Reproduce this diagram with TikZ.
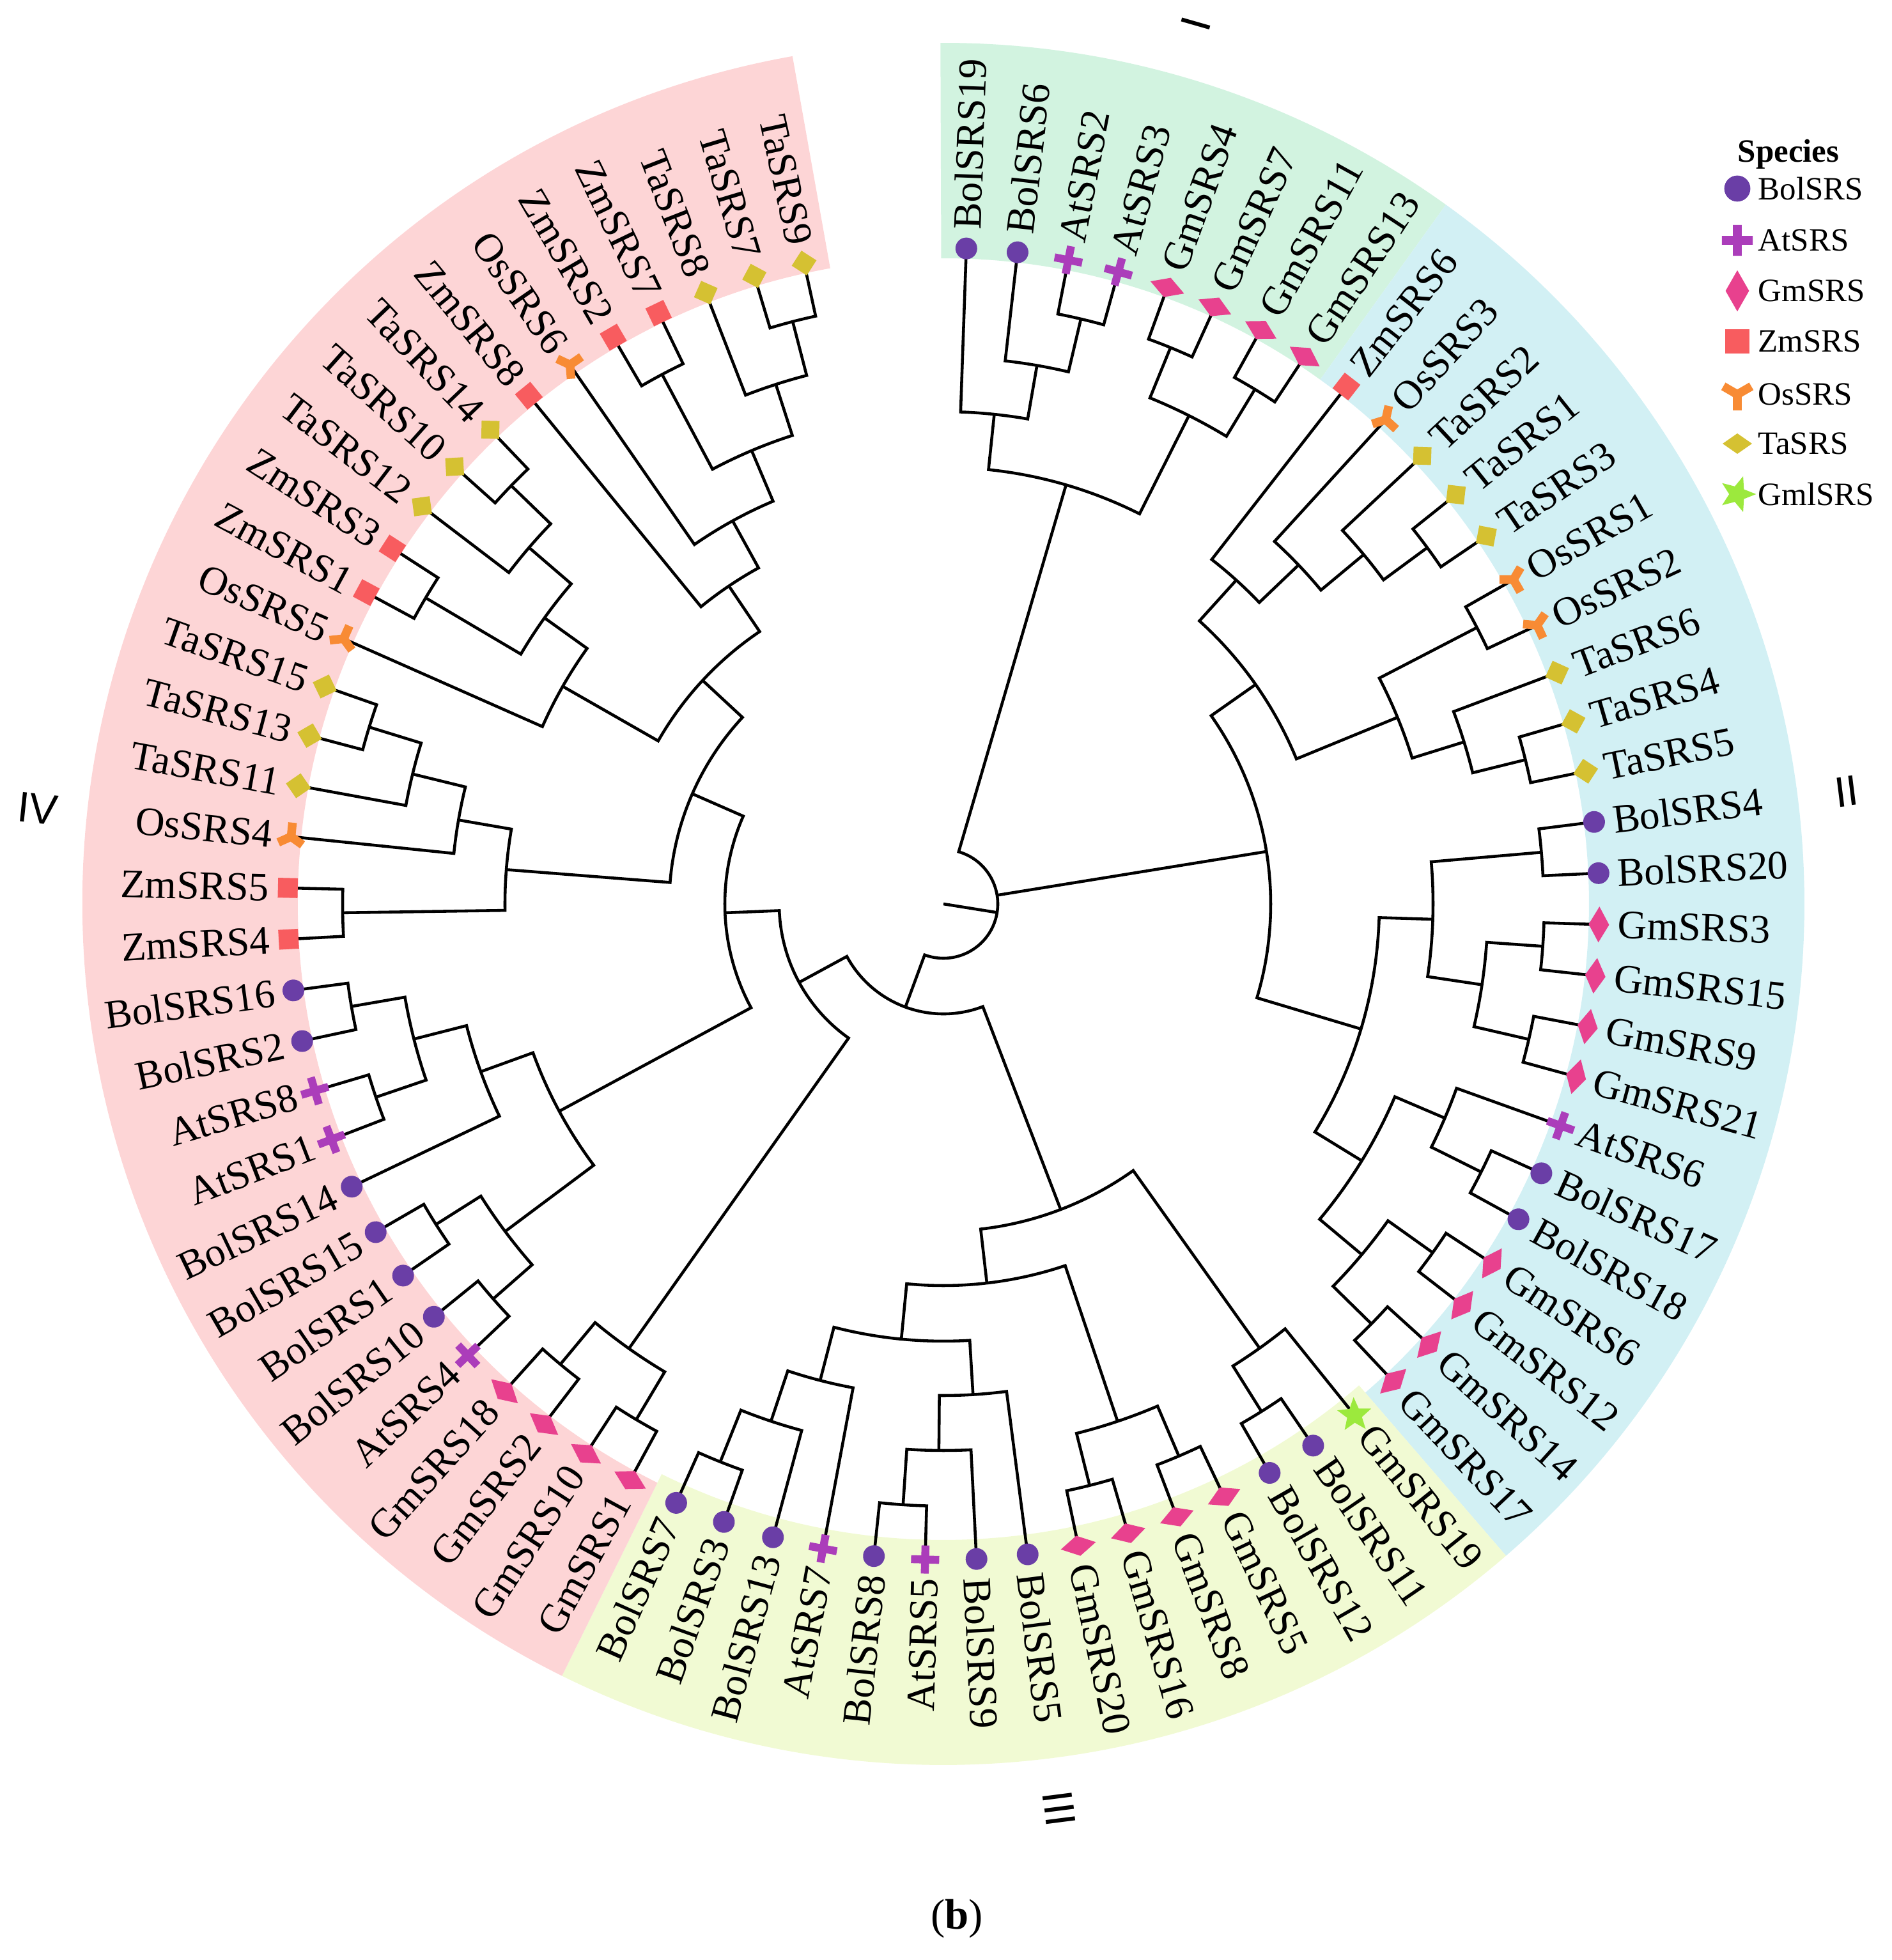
\documentclass[tikz,border=0pt]{standalone}
\usepackage{fontspec}
\setmainfont{Liberation Serif}
\newfontfamily\numfont{Liberation Sans}
\usetikzlibrary{shapes.geometric}
\pgfdeclarelayer{bands}
\pgfdeclarelayer{marks}
\pgfsetlayers{bands,main,marks}
\definecolor{bandI}{HTML}{D2F3E0}
\definecolor{bandII}{HTML}{D2F0F4}
\definecolor{bandIII}{HTML}{F1FAD3}
\definecolor{bandIV}{HTML}{FDD5D6}
\definecolor{cBol}{HTML}{6A3EA6}
\definecolor{cAt}{HTML}{AB3DBA}
\definecolor{cGm}{HTML}{E8418E}
\definecolor{cZm}{HTML}{F85C5F}
\definecolor{cOs}{HTML}{F88B34}
\definecolor{cTa}{HTML}{D5C132}
\definecolor{cGml}{HTML}{9CE93D}
\tikzset{
 treeline/.style={line width=1.3pt, black},
 leaflabel/.style={inner sep=0pt, font=\fontsize{18}{18}\selectfont},
 numlabel/.style={inner sep=0pt, font=\numfont\fontsize{19}{19}\selectfont},
 legtext/.style={inner sep=0pt, anchor=west, font=\fontsize{14.5}{14.5}\selectfont},
 mBol/.pic={\fill[cBol] (0,0) circle[radius=0.17];},
 mAt/.pic={\fill[cAt] (-0.22,-0.062) rectangle (0.22,0.062) (-0.062,-0.22) rectangle (0.062,0.22);},
 mGm/.pic={\fill[cGm] (0.16,0) -- (0,0.28) -- (-0.16,0) -- (0,-0.28) -- cycle;},
 mZm/.pic={\fill[cZm] (-0.155,-0.155) rectangle (0.155,0.155);},
 mOs/.pic={\fill[cOs] (0,0) circle[radius=0.072];
   \foreach \a in {-90,30,150} {\draw[cOs, line width=0.135cm] (0,0) -- (\a:0.22);}},
 mTa/.pic={\fill[cTa, rotate=45] (-0.14,-0.14) rectangle (0.14,0.14);},
 mGml/.pic={\node[star, star points=5, star point ratio=2.3, fill=cGml, inner sep=0pt, minimum size=0.56cm, transform shape, rotate=-90] {};},
 mTaLeg/.pic={\fill[cTa] (0.23,0) -- (0,0.16) -- (-0.23,0) -- (0,-0.16) -- cycle;}
}
% leaf: index, label, species
\newcommand\defleaf[3]{%
  \pgfmathsetmacro\la{88-4.49*#1}%
  \expandafter\xdef\csname ang@L#1\endcsname{\la}%
  \expandafter\xdef\csname rad@L#1\endcsname{10.26}%
  \pgfmathtruncatemacro\side{cos(\la)>0}%
  \ifnum\side=1
    \node[leaflabel, anchor=west, rotate=\la] (lab#1) at (\la:10.55) {#2};
  \else
    \pgfmathsetmacro\lb{\la+180}%
    \node[leaflabel, anchor=east, rotate=\lb] (lab#1) at (\la:10.55) {#2};
  \fi
  \begin{pgfonlayer}{marks}
    \pic[rotate=\la] at (\la:10.26) {m#3};
  \end{pgfonlayer}}
% internal node: name, radius, child1, child2
\newcommand\tnode[4]{%
  \edef\cA{\csname ang@#3\endcsname}\edef\rA{\csname rad@#3\endcsname}%
  \edef\cB{\csname ang@#4\endcsname}\edef\rB{\csname rad@#4\endcsname}%
  \pgfmathsetmacro\tmpa{(\cA+\cB)/2}%
  \expandafter\xdef\csname ang@#1\endcsname{\tmpa}%
  \expandafter\xdef\csname rad@#1\endcsname{#2}%
  \coordinate (#1) at (\tmpa:#2);
  \draw[treeline] (\cA:\rA) -- (\cA:#2) arc[start angle=\cA, end angle=\cB, radius=#2] -- (\cB:\rB);}
\newcommand\rootnode[5]{%
  \edef\cA{\csname ang@#3\endcsname}\edef\rA{\csname rad@#3\endcsname}%
  \edef\cB{\csname ang@#4\endcsname}\edef\rB{\csname rad@#4\endcsname}%
  \edef\cC{\csname ang@#5\endcsname}\edef\rC{\csname rad@#5\endcsname}%
  \pgfmathsetmacro\tmpa{(\cA+\cB+\cC)/3}%
  \coordinate (#1) at (0,0);
  \draw[treeline] (\cA:\rA) -- (\cA:#2) arc[start angle=\cA, end angle=\cC, radius=#2] -- (\cC:\rC);
  \draw[treeline] (\cB:#2) -- (\cB:\rB);
  \draw[treeline] (#1) -- (\tmpa:#2);}
\begin{document}
\begin{tikzpicture}
\useasboundingbox (-14.76,-16.52) rectangle (14.84,14.14);
\begin{pgfonlayer}{bands}
\fill[bandI] (90.2:10.1) arc[start angle=90.2, end angle=54.3, radius=10.1] -- (54.3:13.47) arc[start angle=54.3, end angle=90.2, radius=13.47] -- cycle;
\fill[bandII] (54.3:10.1) arc[start angle=54.3, end angle=-49.2, radius=10.1] -- (-49.2:13.47) arc[start angle=-49.2, end angle=54.3, radius=13.47] -- cycle;
\fill[bandIII] (-49.2:9.95) arc[start angle=-49.2, end angle=-116.3, radius=9.95] -- (-116.3:13.47) arc[start angle=-116.3, end angle=-49.2, radius=13.47] -- cycle;
\fill[bandIV] (-116.3:10.1) arc[start angle=-116.3, end angle=-259.9, radius=10.1] -- (-259.9:13.47) arc[start angle=-259.9, end angle=-116.3, radius=13.47] -- cycle;
\end{pgfonlayer}
% leaves
\defleaf{0}{BolSRS19}{Bol}
\defleaf{1}{BolSRS6}{Bol}
\defleaf{2}{AtSRS2}{At}
\defleaf{3}{AtSRS3}{At}
\defleaf{4}{GmSRS4}{Gm}
\defleaf{5}{GmSRS7}{Gm}
\defleaf{6}{GmSRS11}{Gm}
\defleaf{7}{GmSRS13}{Gm}
\defleaf{8}{ZmSRS6}{Zm}
\defleaf{9}{OsSRS3}{Os}
\defleaf{10}{TaSRS2}{Ta}
\defleaf{11}{TaSRS1}{Ta}
\defleaf{12}{TaSRS3}{Ta}
\defleaf{13}{OsSRS1}{Os}
\defleaf{14}{OsSRS2}{Os}
\defleaf{15}{TaSRS6}{Ta}
\defleaf{16}{TaSRS4}{Ta}
\defleaf{17}{TaSRS5}{Ta}
\defleaf{18}{BolSRS4}{Bol}
\defleaf{19}{BolSRS20}{Bol}
\defleaf{20}{GmSRS3}{Gm}
\defleaf{21}{GmSRS15}{Gm}
\defleaf{22}{GmSRS9}{Gm}
\defleaf{23}{GmSRS21}{Gm}
\defleaf{24}{AtSRS6}{At}
\defleaf{25}{BolSRS17}{Bol}
\defleaf{26}{BolSRS18}{Bol}
\defleaf{27}{GmSRS6}{Gm}
\defleaf{28}{GmSRS12}{Gm}
\defleaf{29}{GmSRS14}{Gm}
\defleaf{30}{GmSRS17}{Gm}
\defleaf{31}{GmSRS19}{Gml}
\defleaf{32}{BolSRS11}{Bol}
\defleaf{33}{BolSRS12}{Bol}
\defleaf{34}{GmSRS5}{Gm}
\defleaf{35}{GmSRS8}{Gm}
\defleaf{36}{GmSRS16}{Gm}
\defleaf{37}{GmSRS20}{Gm}
\defleaf{38}{BolSRS5}{Bol}
\defleaf{39}{BolSRS9}{Bol}
\defleaf{40}{AtSRS5}{At}
\defleaf{41}{BolSRS8}{Bol}
\defleaf{42}{AtSRS7}{At}
\defleaf{43}{BolSRS13}{Bol}
\defleaf{44}{BolSRS3}{Bol}
\defleaf{45}{BolSRS7}{Bol}
\defleaf{46}{GmSRS1}{Gm}
\defleaf{47}{GmSRS10}{Gm}
\defleaf{48}{GmSRS2}{Gm}
\defleaf{49}{GmSRS18}{Gm}
\defleaf{50}{AtSRS4}{At}
\defleaf{51}{BolSRS10}{Bol}
\defleaf{52}{BolSRS1}{Bol}
\defleaf{53}{BolSRS15}{Bol}
\defleaf{54}{BolSRS14}{Bol}
\defleaf{55}{AtSRS1}{At}
\defleaf{56}{AtSRS8}{At}
\defleaf{57}{BolSRS2}{Bol}
\defleaf{58}{BolSRS16}{Bol}
\defleaf{59}{ZmSRS4}{Zm}
\defleaf{60}{ZmSRS5}{Zm}
\defleaf{61}{OsSRS4}{Os}
\defleaf{62}{TaSRS11}{Ta}
\defleaf{63}{TaSRS13}{Ta}
\defleaf{64}{TaSRS15}{Ta}
\defleaf{65}{OsSRS5}{Os}
\defleaf{66}{ZmSRS1}{Zm}
\defleaf{67}{ZmSRS3}{Zm}
\defleaf{68}{TaSRS12}{Ta}
\defleaf{69}{TaSRS10}{Ta}
\defleaf{70}{TaSRS14}{Ta}
\defleaf{71}{ZmSRS8}{Zm}
\defleaf{72}{OsSRS6}{Os}
\defleaf{73}{ZmSRS2}{Zm}
\defleaf{74}{ZmSRS7}{Zm}
\defleaf{75}{TaSRS8}{Ta}
\defleaf{76}{TaSRS7}{Ta}
\defleaf{77}{TaSRS9}{Ta}
% clade I
\tnode{a23}{9.40}{L2}{L3}
\tnode{a123}{8.55}{L1}{a23}
\tnode{a0}{7.70}{L0}{a123}
\tnode{g45}{9.40}{L4}{L5}
\tnode{g67}{9.41}{L6}{L7}
\tnode{g4567}{8.55}{g45}{g67}
\tnode{cI}{6.83}{a0}{g4567}
% clade II
\tnode{t1112}{9.40}{L11}{L12}
\tnode{t10}{8.55}{L10}{t1112}
\tnode{t9}{7.68}{L9}{t10}
\tnode{t8}{6.83}{L8}{t9}
\tnode{o1314}{9.40}{L13}{L14}
\tnode{t1617}{9.38}{L16}{L17}
\tnode{t15}{8.53}{L15}{t1617}
\tnode{m2}{7.68}{o1314}{t15}
\tnode{mono}{5.97}{t8}{m2}
\tnode{b1819}{9.39}{L18}{L19}
\tnode{g2021}{9.40}{L20}{L21}
\tnode{g2223}{9.40}{L22}{L23}
\tnode{g2023}{8.52}{g2021}{g2223}
\tnode{x1}{7.66}{b1819}{g2023}
\tnode{b2526}{9.40}{L25}{L26}
\tnode{a24}{8.53}{L24}{b2526}
\tnode{g2728}{9.40}{L27}{L28}
\tnode{g2930}{9.38}{L29}{L30}
\tnode{g2730}{8.54}{g2728}{g2930}
\tnode{x2}{7.68}{a24}{g2730}
\tnode{x12}{6.82}{x1}{x2}
\tnode{cII}{5.12}{mono}{x12}
% clade III
\tnode{b3233}{9.37}{L32}{L33}
\tnode{s31}{8.53}{L31}{b3233}
\tnode{g3435}{9.39}{L34}{L35}
\tnode{g3637}{9.38}{L36}{L37}
\tnode{g3437}{8.54}{g3435}{g3637}
\tnode{a4041}{9.42}{L40}{L41}
\tnode{b39}{8.55}{a4041}{L39}
\tnode{b38}{7.69}{b39}{L38}
\tnode{b4445}{9.40}{L44}{L45}
\tnode{b43}{8.53}{L43}{b4445}
\tnode{a42}{7.70}{L42}{b43}
\tnode{y1}{6.84}{b38}{a42}
\tnode{y2}{5.97}{y1}{g3437}
\tnode{cIII}{5.12}{s31}{y2}
% clade IV
\tnode{g4647}{9.39}{L46}{L47}
\tnode{g4849}{9.37}{L48}{L49}
\tnode{gG}{8.52}{g4647}{g4849}
\tnode{a5051}{9.37}{L50}{L51}
\tnode{b5253}{9.39}{L52}{L53}
\tnode{q1}{8.56}{a5051}{b5253}
\tnode{a5556}{9.38}{L55}{L56}
\tnode{b5758}{9.40}{L57}{L58}
\tnode{q2}{8.55}{a5556}{b5758}
\tnode{q3}{7.70}{L54}{q2}
\tnode{q4}{6.83}{q1}{q3}
\tnode{z5960}{9.40}{L59}{L60}
\tnode{t6364}{9.40}{L63}{L64}
\tnode{t62}{8.55}{L62}{t6364}
\tnode{o61}{7.70}{L61}{t62}
\tnode{u1}{6.86}{z5960}{o61}
\tnode{t6970}{9.41}{L69}{L70}
\tnode{t68}{8.55}{L68}{t6970}
\tnode{z6667}{9.41}{L66}{L67}
\tnode{v1}{7.68}{t68}{z6667}
\tnode{o65}{6.86}{L65}{v1}
\tnode{z7374}{9.38}{L73}{L74}
\tnode{t7677}{9.41}{L76}{L77}
\tnode{t75}{8.54}{L75}{t7677}
\tnode{w1}{7.70}{z7374}{t75}
\tnode{o72}{6.84}{L72}{w1}
\tnode{z71}{6.00}{L71}{o72}
\tnode{k1}{5.14}{z71}{o65}
\tnode{k2}{4.29}{k1}{u1}
\tnode{k3}{3.42}{k2}{q4}
\tnode{k4}{2.57}{k3}{gG}
\tnode{R2}{1.72}{k4}{cIII}
\rootnode{root}{0.85}{cI}{cII}{R2}
% clade numerals
\node[numlabel, rotate=74.0] (numI) at (74.0:14.32) {I};
\node[numlabel, rotate=7.1] (numII) at (7.1:14.24) {II};
\node[numlabel, rotate=-82.7] (numIII) at (-82.7:14.27) {III};
\node[numlabel, rotate=-6] (numIV) at (174:14.25) {IV};
% legend
\node[inner sep=0pt, font=\bfseries\fontsize{14.5}{14.5}\selectfont] (legtitle) at (13.22,11.73) {Species};
\pic[scale=1.2] at (12.42,11.19) {mBol};
\node[legtext] (lgBol) at (12.74,11.19) {BolSRS};
\pic[scale=1.1] at (12.42,10.38) {mAt};
\node[legtext] (lgAt) at (12.74,10.38) {AtSRS};
\pic[scale=1.15] at (12.42,9.59) {mGm};
\node[legtext] (lgGm) at (12.74,9.59) {GmSRS};
\pic[scale=1.2] at (12.42,8.80) {mZm};
\node[legtext] (lgZm) at (12.74,8.80) {ZmSRS};
\pic[scale=1.15] at (12.42,7.97) {mOs};
\node[legtext] (lgOs) at (12.74,7.97) {OsSRS};
\pic at (12.42,7.20) {mTaLeg};
\node[legtext] (lgTa) at (12.74,7.20) {TaSRS};
\pic[scale=1.05] at (12.42,6.41) {mGml};
\node[legtext] (lgGml) at (12.74,6.41) {GmlSRS};
% caption
\node[inner sep=0pt, font=\fontsize{19}{19}\selectfont] (caption) at (0.21,-15.87) {(\textbf{b})};
\end{tikzpicture}
\end{document}
